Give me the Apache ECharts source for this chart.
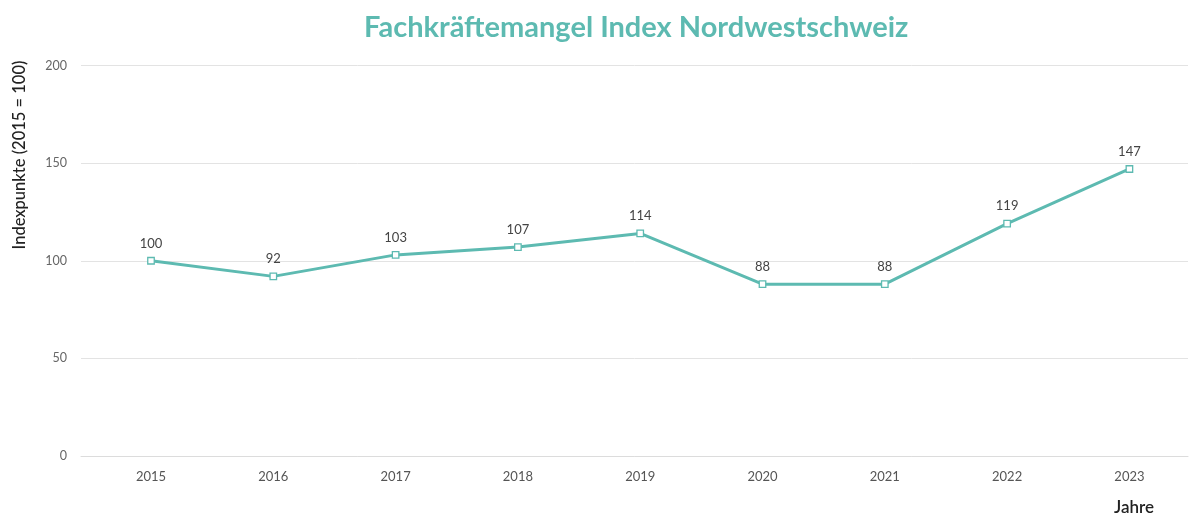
<!DOCTYPE html>
<html><head><meta charset="utf-8">
<script src="https://cdn.jsdelivr.net/npm/echarts@6/dist/echarts.min.js"></script>
<style>html,body{margin:0;padding:0;background:#fff}#c{width:1189px;height:516px}</style>
</head><body><div id="c"></div>
<script>
const years = [2015, 2016, 2017, 2018, 2019, 2020, 2021, 2022, 2023];
const indexValues = [100, 92, 103, 107, 114, 88, 88, 119, 147];
const yTicks = [0, 50, 100, 150, 200];
const titleText = 'Fachkräftemangel Index Nordwestschweiz';
const yName = 'Indexpunkte (2015 = 100)';
const xName = 'Jahre';

const teal = '#5dbab1';
const chart = echarts.init(document.getElementById('c'), null, {renderer: 'canvas'});
chart.setOption({
  animation: false,
  title: {
    text: titleText, left: 359, top: 8,
    textStyle: {color: teal, fontFamily: 'Lato', fontWeight: 'bold', fontSize: 29}
  },
  grid: {left: 81, right: 1, top: 65.5, bottom: 60, containLabel: false},
  xAxis: {
    type: 'value', min: 2014.4276, max: 2023.479,
    axisLine: {show: true, lineStyle: {color: '#dcdcdc', width: 1}},
    axisTick: {show: false},
    splitLine: {show: false},
    axisLabel: {customValues: years, color: '#555', fontFamily: 'Lato', fontSize: 13, margin: 14,
      formatter: v => String(v)}
  },
  yAxis: {
    type: 'value', min: yTicks[0], max: yTicks[yTicks.length - 1], interval: 50,
    axisLine: {show: false}, axisTick: {show: false},
    splitLine: {lineStyle: {color: '#e3e3e3', width: 1}},
    axisLabel: {color: '#666', fontFamily: 'Lato', fontSize: 12.5, margin: 14}
  },
  graphic: [
    {type: 'text', x: 20, y: 155, rotation: Math.PI / 2,
      style: {text: yName, fill: '#222', font: '500 16.5px Lato', align: 'center', verticalAlign: 'middle'}},
    {type: 'text', x: 1134, y: 508,
      style: {text: xName, fill: '#222', font: '600 17px Lato', align: 'center', verticalAlign: 'middle'}}
  ],
  series: [{
    type: 'line',
    data: years.map((y, i) => [y, indexValues[i]]),
    lineStyle: {color: teal, width: 3},
    itemStyle: {color: '#fff', borderColor: teal, borderWidth: 1.3},
    symbol: 'rect', symbolSize: 6.5,
    label: {show: true, position: 'top', distance: 7, color: '#444', fontFamily: 'Lato', fontSize: 13,
      formatter: p => p.value[1]}
  }]
});
</script></body></html>
